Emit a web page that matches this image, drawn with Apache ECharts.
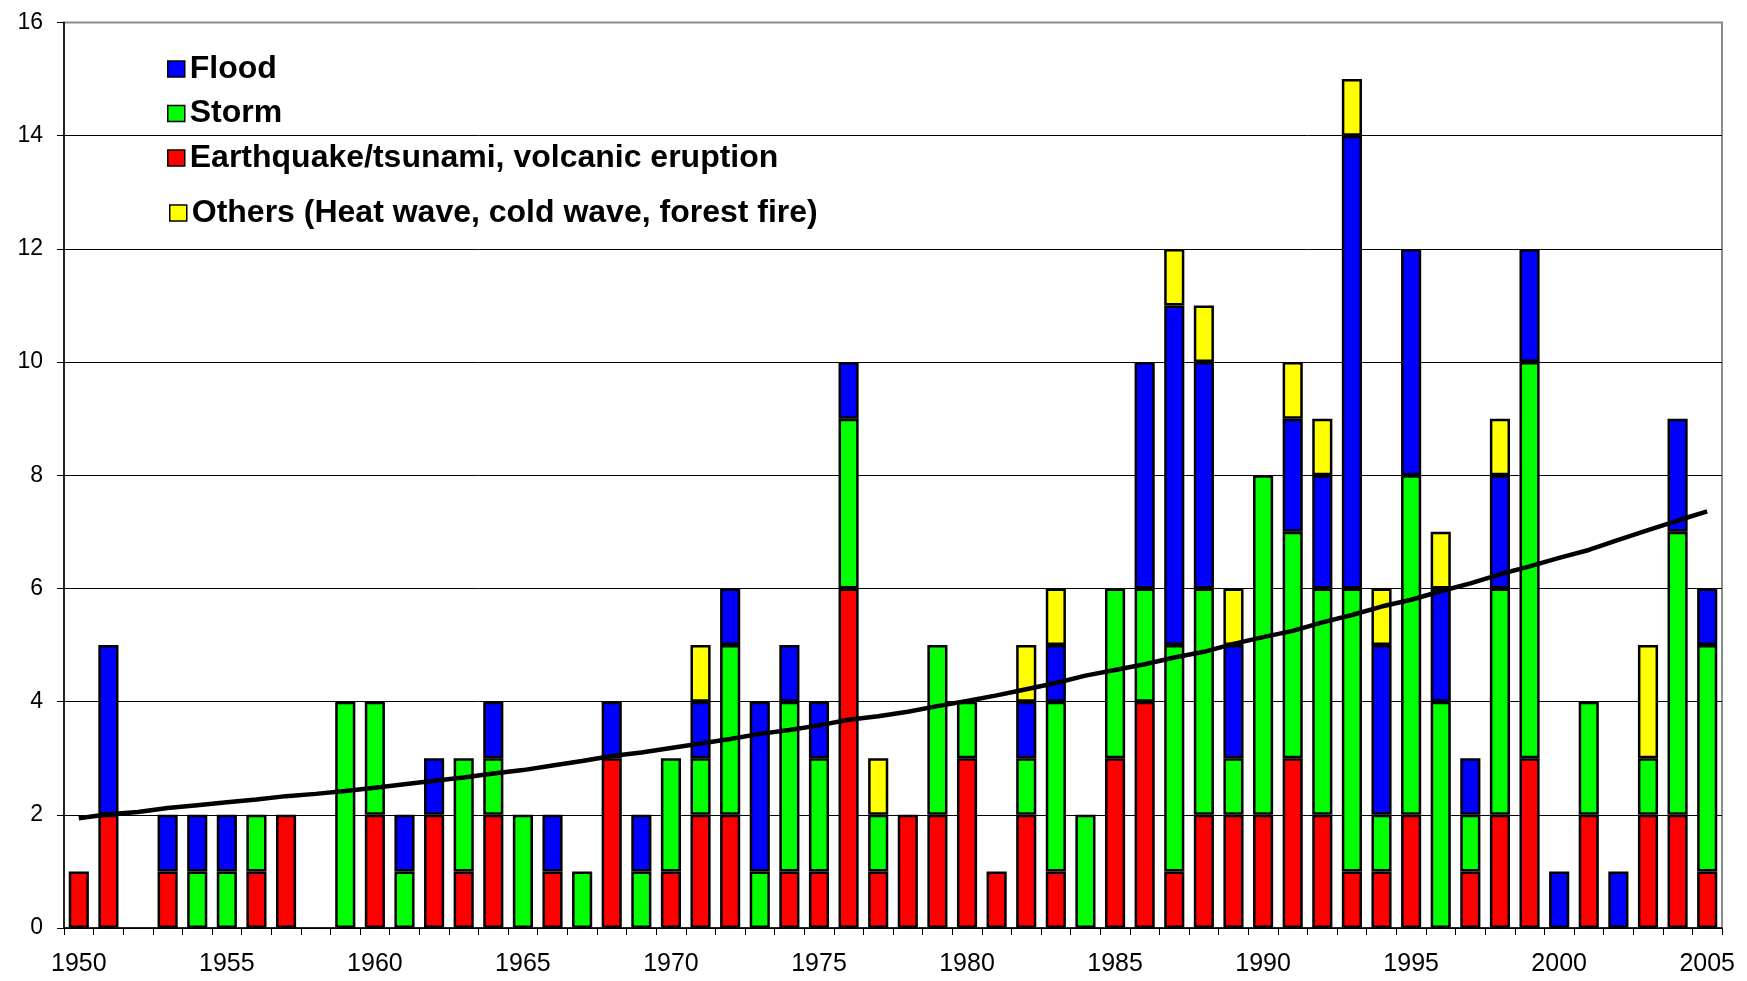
<!DOCTYPE html>
<html>
<head>
<meta charset="utf-8">
<script src="https://cdn.jsdelivr.net/npm/echarts@6/dist/echarts.min.js"></script>
<style>html,body{margin:0;padding:0;background:#fff;}#c{width:1747px;height:981px;}</style>
</head>
<body>
<div id="c"></div>
<script>
const years = ['1950','1951','1952','1953','1954','1955','1956','1957','1958','1959',
  '1960','1961','1962','1963','1964','1965','1966','1967','1968','1969',
  '1970','1971','1972','1973','1974','1975','1976','1977','1978','1979',
  '1980','1981','1982','1983','1984','1985','1986','1987','1988','1989',
  '1990','1991','1992','1993','1994','1995','1996','1997','1998','1999',
  '2000','2001','2002','2003','2004','2005'];
const quake = [1,2,0,1,0,0,1,2,0,0, 2,0,2,1,2,0,1,0,3,0, 1,2,2,0,1,1,6,1,2,2, 3,1,2,1,0,3,4,1,2,2, 2,3,2,1,1,2,0,1,2,3, 0,2,0,2,2,1];
const storm = [0,0,0,0,1,1,1,0,0,4, 2,1,0,2,1,2,0,1,0,1, 2,1,3,1,3,2,3,1,0,3, 1,0,1,3,2,3,2,4,4,1, 6,4,4,5,1,6,4,1,4,7, 0,2,0,1,5,4];
const flood = [0,3,0,1,1,1,0,0,0,0, 0,1,1,0,1,0,1,0,1,1, 0,1,1,3,1,1,1,0,0,0, 0,0,1,1,0,0,4,6,4,2, 0,2,2,8,3,4,2,1,2,2, 1,0,1,0,2,1];
const others = [0,0,0,0,0,0,0,0,0,0, 0,0,0,0,0,0,0,0,0,0, 0,1,0,0,0,0,0,1,0,0, 0,0,1,1,0,0,0,1,1,1, 0,1,1,1,1,0,1,0,1,0, 0,0,0,2,0,0];
const trend = [1.94,2.01,2.05,2.12,2.17,2.22,2.27,2.33,2.37,2.42,
  2.48,2.54,2.60,2.66,2.73,2.79,2.87,2.95,3.04,3.10,
  3.18,3.26,3.34,3.43,3.50,3.58,3.68,3.74,3.82,3.92,
  4.01,4.11,4.22,4.33,4.46,4.56,4.66,4.78,4.88,5.02,
  5.14,5.25,5.40,5.53,5.68,5.80,5.95,6.09,6.25,6.39,
  6.54,6.68,6.86,7.03,7.20,7.36];
const yTicks = [0,2,4,6,8,10,12,14,16];

const names = {
  flood: 'Flood',
  storm: 'Storm',
  quake: 'Earthquake/tsunami, volcanic eruption',
  others: 'Others (Heat wave, cold wave, forest fire)'
};
const colors = {quake:'#FF0000', storm:'#00FF00', flood:'#0000FF', others:'#FFFF00'};
const FONT = '"Liberation Sans", Arial, sans-serif';

function barSeries(key, arr) {
  return {
    name: names[key], type: 'bar', stack: 'total', barWidth: '68%',
    data: arr.map(v => v === 0 ? '-' : v),
    itemStyle: {color: colors[key], borderColor: '#000', borderWidth: 2.5},
    emphasis: {disabled: true}
  };
}

const legendText = {fontFamily: FONT, fontWeight: 'bold', fontSize: 32, color: '#000', lineHeight: 32};
const chart = echarts.init(document.getElementById('c'), null, {renderer: 'canvas'});
chart.setOption({
  animation: false,
  backgroundColor: '#fff',
  grid: {left: 64, right: 25, top: 22.5, bottom: 53, show: true, borderColor: '#8c8c8c', borderWidth: 2, containLabel: false},
  legend: [{
    data: [names.flood, names.storm, names.quake],
    orient: 'vertical', left: 167, top: 53, itemGap: 12.5, padding: 0,
    itemWidth: 17, itemHeight: 16, icon: 'rect',
    itemStyle: {borderColor: '#000', borderWidth: 1.5},
    textStyle: legendText, selectedMode: false
  }, {
    data: [names.others],
    orient: 'vertical', left: 169, top: 197, padding: 0,
    itemWidth: 17, itemHeight: 16, icon: 'rect',
    itemStyle: {borderColor: '#000', borderWidth: 1.5},
    textStyle: legendText, selectedMode: false
  }],
  xAxis: {
    type: 'category', data: years, boundaryGap: true,
    axisLine: {lineStyle: {color: '#000', width: 1.5}},
    axisTick: {show: true, interval: 0, length: 7, lineStyle: {color: '#000', width: 1}},
    axisLabel: {interval: 4, fontFamily: FONT, fontSize: 25, color: '#000', margin: 24}
  },
  yAxis: {
    type: 'value', min: yTicks[0], max: yTicks[yTicks.length - 1], interval: 2,
    axisLine: {show: true, lineStyle: {color: '#000', width: 1.5}},
    axisTick: {show: true, length: 7, lineStyle: {color: '#000', width: 1}},
    axisLabel: {fontFamily: FONT, fontSize: 23, color: '#000', margin: 21},
    splitLine: {show: true, showMaxLine: false, lineStyle: {color: '#000', width: 1}}
  },
  series: [
    barSeries('quake', quake),
    barSeries('storm', storm),
    barSeries('flood', flood),
    barSeries('others', others),
    {
      name: 'trend', type: 'line', data: trend, symbol: 'none', smooth: false,
      lineStyle: {color: '#000', width: 4.5}, z: 5, emphasis: {disabled: true}
    }
  ]
});
</script>
</body>
</html>
